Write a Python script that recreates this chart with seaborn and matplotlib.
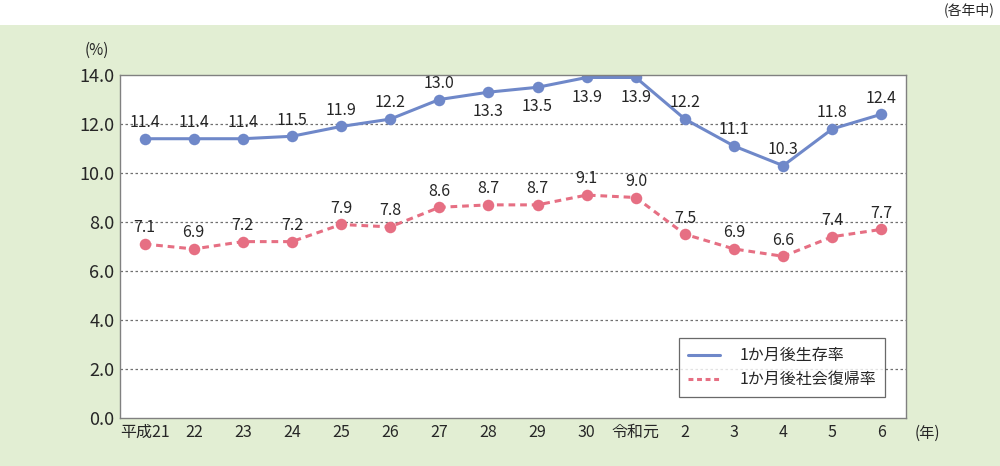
import numpy as np
import pandas as pd
import matplotlib
matplotlib.use("Agg")
import matplotlib.pyplot as plt
import seaborn as sns
from matplotlib.patches import Rectangle

years = ["平成21", "22", "23", "24", "25", "26", "27", "28", "29", "30",
         "令和元", "2", "3", "4", "5", "6"]
survival = [11.4, 11.4, 11.4, 11.5, 11.9, 12.2, 13.0, 13.3, 13.5, 13.9,
            13.9, 12.2, 11.1, 10.3, 11.8, 12.4]
social = [7.1, 6.9, 7.2, 7.2, 7.9, 7.8, 8.6, 8.7, 8.7, 9.1,
          9.0, 7.5, 6.9, 6.6, 7.4, 7.7]
series_names = ["1か月後生存率", "1か月後社会復帰率"]
yticks = [0, 2, 4, 6, 8, 10, 12, 14]

sns.set_style("white")
plt.rcParams['font.family'] = ['Noto Sans CJK JP', 'DejaVu Sans']

blue = "#6F88C9"
pink = "#E66F83"
green = "#E2EED3"

df = pd.DataFrame({"x": np.arange(len(years)), series_names[0]: survival,
                   series_names[1]: social})

fig = plt.figure(figsize=(10, 4.66), dpi=100)
fig.patches.append(Rectangle((0, 0), 1, 1 - 25 / 466, transform=fig.transFigure,
                             facecolor=green, edgecolor="none", zorder=-10))
ax = fig.add_axes([0.12, 0.103, 0.786, 0.736])
ax.set_facecolor("white")

sns.lineplot(data=df, x="x", y=series_names[0], ax=ax, color=blue, lw=2.2,
             marker="o", markersize=8.3, markeredgewidth=0, label=series_names[0])
sns.lineplot(data=df, x="x", y=series_names[1], ax=ax, color=pink, lw=2.2,
             marker="o", markersize=8.3, markeredgewidth=0, label=series_names[1])
ax.lines[1].set_dashes([2.2, 1.6])

# value labels
for i, v in enumerate(survival):
    if 7 <= i <= 10:
        ax.annotate(f"{v:.1f}", (i, v), xytext=(0, -8), textcoords="offset points",
                    ha="center", va="top", fontsize=11.5)
    else:
        ax.annotate(f"{v:.1f}", (i, v), xytext=(0, 5.5), textcoords="offset points",
                    ha="center", va="bottom", fontsize=11.5)
for i, v in enumerate(social):
    ax.annotate(f"{v:.1f}", (i, v), xytext=(0, 5.5), textcoords="offset points",
                ha="center", va="bottom", fontsize=11.5)

ax.set_xlim(-0.5, len(years) - 0.5)
ax.set_ylim(0, 14)
ax.set_xticks(range(len(years)))
ax.set_xticklabels(years, fontsize=11.5)
ax.set_yticks(yticks)
ax.set_yticklabels([f"{t:.1f}" for t in yticks], fontsize=13)
ax.tick_params(axis="both", length=0, pad=4)
ax.set_xlabel("")
ax.set_ylabel("")
for t in yticks[1:-1]:
    ax.axhline(t, color="#707070", lw=0.9, ls=(0, (2, 2)), zorder=0)
for s in ax.spines.values():
    s.set_color("#808080")
    s.set_linewidth(1)

leg = ax.legend(loc="lower right", bbox_to_anchor=(0.973, 0.061), borderaxespad=0,
                fontsize=11.5, frameon=True, fancybox=False, edgecolor="#444444",
                handlelength=2.0, handletextpad=1.2, borderpad=0.55, labelspacing=0.45)
leg.get_frame().set_linewidth(0.9)
for h in leg.get_lines():
    h.set_marker("")
leg.get_lines()[1].set_dashes([1.6, 1.2])

fig.text(0.097, 1 - 50 / 466, "(%)", ha="center", va="center", fontsize=11)
fig.text(0.915, 1 - 433 / 466, "(年)", ha="left", va="center", fontsize=11)
fig.text(0.995, 1 - 10 / 466, "(各年中)", ha="right", va="center", fontsize=10)

fig.savefig("out.png", dpi=100)
